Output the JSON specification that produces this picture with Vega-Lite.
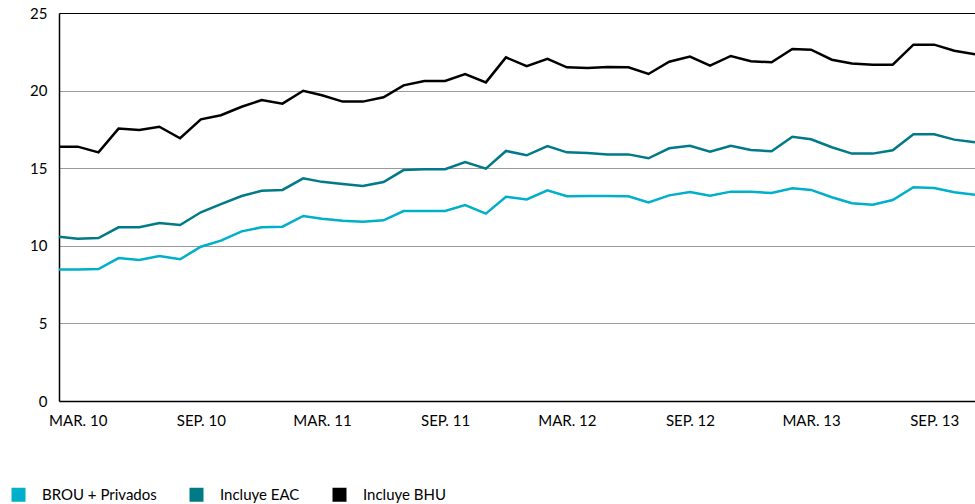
{
  "$schema": "https://vega.github.io/schema/vega-lite/v6.json",
  "width": 916,
  "height": 388,
  "autosize": {"type": "none"},
  "padding": {"left": 59, "top": 13, "right": 0, "bottom": 103},
  "config": {
    "view": {"stroke": null},
    "font": "Lato",
    "axis": {"labelFont": "Lato", "labelColor": "#000", "labelFontSize": 15},
    "legend": {"labelFont": "Lato", "labelColor": "#000", "labelFontSize": 15}
  },
  "data": {"values": [
    {"fecha": "2010-02-01", "serie": "BROU + Privados", "valor": 8.48},
    {"fecha": "2010-03-01", "serie": "BROU + Privados", "valor": 8.48},
    {"fecha": "2010-04-01", "serie": "BROU + Privados", "valor": 8.5},
    {"fecha": "2010-05-01", "serie": "BROU + Privados", "valor": 9.21},
    {"fecha": "2010-06-01", "serie": "BROU + Privados", "valor": 9.09},
    {"fecha": "2010-07-01", "serie": "BROU + Privados", "valor": 9.34},
    {"fecha": "2010-08-01", "serie": "BROU + Privados", "valor": 9.13},
    {"fecha": "2010-09-01", "serie": "BROU + Privados", "valor": 9.94},
    {"fecha": "2010-10-01", "serie": "BROU + Privados", "valor": 10.33},
    {"fecha": "2010-11-01", "serie": "BROU + Privados", "valor": 10.93},
    {"fecha": "2010-12-01", "serie": "BROU + Privados", "valor": 11.19},
    {"fecha": "2011-01-01", "serie": "BROU + Privados", "valor": 11.23},
    {"fecha": "2011-02-01", "serie": "BROU + Privados", "valor": 11.92},
    {"fecha": "2011-03-01", "serie": "BROU + Privados", "valor": 11.75},
    {"fecha": "2011-04-01", "serie": "BROU + Privados", "valor": 11.62},
    {"fecha": "2011-05-01", "serie": "BROU + Privados", "valor": 11.55},
    {"fecha": "2011-06-01", "serie": "BROU + Privados", "valor": 11.64},
    {"fecha": "2011-07-01", "serie": "BROU + Privados", "valor": 12.24},
    {"fecha": "2011-08-01", "serie": "BROU + Privados", "valor": 12.24},
    {"fecha": "2011-09-01", "serie": "BROU + Privados", "valor": 12.24},
    {"fecha": "2011-10-01", "serie": "BROU + Privados", "valor": 12.63},
    {"fecha": "2011-11-01", "serie": "BROU + Privados", "valor": 12.07},
    {"fecha": "2011-12-01", "serie": "BROU + Privados", "valor": 13.16},
    {"fecha": "2012-01-01", "serie": "BROU + Privados", "valor": 12.99},
    {"fecha": "2012-02-01", "serie": "BROU + Privados", "valor": 13.57},
    {"fecha": "2012-03-01", "serie": "BROU + Privados", "valor": 13.19},
    {"fecha": "2012-04-01", "serie": "BROU + Privados", "valor": 13.21},
    {"fecha": "2012-05-01", "serie": "BROU + Privados", "valor": 13.21},
    {"fecha": "2012-06-01", "serie": "BROU + Privados", "valor": 13.19},
    {"fecha": "2012-07-01", "serie": "BROU + Privados", "valor": 12.8},
    {"fecha": "2012-08-01", "serie": "BROU + Privados", "valor": 13.25},
    {"fecha": "2012-09-01", "serie": "BROU + Privados", "valor": 13.47},
    {"fecha": "2012-10-01", "serie": "BROU + Privados", "valor": 13.23},
    {"fecha": "2012-11-01", "serie": "BROU + Privados", "valor": 13.49},
    {"fecha": "2012-12-01", "serie": "BROU + Privados", "valor": 13.49},
    {"fecha": "2013-01-01", "serie": "BROU + Privados", "valor": 13.4},
    {"fecha": "2013-02-01", "serie": "BROU + Privados", "valor": 13.7},
    {"fecha": "2013-03-01", "serie": "BROU + Privados", "valor": 13.6},
    {"fecha": "2013-04-01", "serie": "BROU + Privados", "valor": 13.13},
    {"fecha": "2013-05-01", "serie": "BROU + Privados", "valor": 12.74},
    {"fecha": "2013-06-01", "serie": "BROU + Privados", "valor": 12.65},
    {"fecha": "2013-07-01", "serie": "BROU + Privados", "valor": 12.95},
    {"fecha": "2013-08-01", "serie": "BROU + Privados", "valor": 13.77},
    {"fecha": "2013-09-01", "serie": "BROU + Privados", "valor": 13.72},
    {"fecha": "2013-10-01", "serie": "BROU + Privados", "valor": 13.45},
    {"fecha": "2013-11-01", "serie": "BROU + Privados", "valor": 13.29},
    {"fecha": "2010-02-01", "serie": "Incluye EAC", "valor": 10.59},
    {"fecha": "2010-03-01", "serie": "Incluye EAC", "valor": 10.46},
    {"fecha": "2010-04-01", "serie": "Incluye EAC", "valor": 10.5},
    {"fecha": "2010-05-01", "serie": "Incluye EAC", "valor": 11.19},
    {"fecha": "2010-06-01", "serie": "Incluye EAC", "valor": 11.19},
    {"fecha": "2010-07-01", "serie": "Incluye EAC", "valor": 11.47},
    {"fecha": "2010-08-01", "serie": "Incluye EAC", "valor": 11.34},
    {"fecha": "2010-09-01", "serie": "Incluye EAC", "valor": 12.16},
    {"fecha": "2010-10-01", "serie": "Incluye EAC", "valor": 12.69},
    {"fecha": "2010-11-01", "serie": "Incluye EAC", "valor": 13.21},
    {"fecha": "2010-12-01", "serie": "Incluye EAC", "valor": 13.55},
    {"fecha": "2011-01-01", "serie": "Incluye EAC", "valor": 13.6},
    {"fecha": "2011-02-01", "serie": "Incluye EAC", "valor": 14.35},
    {"fecha": "2011-03-01", "serie": "Incluye EAC", "valor": 14.12},
    {"fecha": "2011-04-01", "serie": "Incluye EAC", "valor": 13.98},
    {"fecha": "2011-05-01", "serie": "Incluye EAC", "valor": 13.85},
    {"fecha": "2011-06-01", "serie": "Incluye EAC", "valor": 14.11},
    {"fecha": "2011-07-01", "serie": "Incluye EAC", "valor": 14.88},
    {"fecha": "2011-08-01", "serie": "Incluye EAC", "valor": 14.93},
    {"fecha": "2011-09-01", "serie": "Incluye EAC", "valor": 14.93},
    {"fecha": "2011-10-01", "serie": "Incluye EAC", "valor": 15.4},
    {"fecha": "2011-11-01", "serie": "Incluye EAC", "valor": 14.97},
    {"fecha": "2011-12-01", "serie": "Incluye EAC", "valor": 16.11},
    {"fecha": "2012-01-01", "serie": "Incluye EAC", "valor": 15.83},
    {"fecha": "2012-02-01", "serie": "Incluye EAC", "valor": 16.43},
    {"fecha": "2012-03-01", "serie": "Incluye EAC", "valor": 16.02},
    {"fecha": "2012-04-01", "serie": "Incluye EAC", "valor": 15.98},
    {"fecha": "2012-05-01", "serie": "Incluye EAC", "valor": 15.89},
    {"fecha": "2012-06-01", "serie": "Incluye EAC", "valor": 15.89},
    {"fecha": "2012-07-01", "serie": "Incluye EAC", "valor": 15.64},
    {"fecha": "2012-08-01", "serie": "Incluye EAC", "valor": 16.28},
    {"fecha": "2012-09-01", "serie": "Incluye EAC", "valor": 16.45},
    {"fecha": "2012-10-01", "serie": "Incluye EAC", "valor": 16.06},
    {"fecha": "2012-11-01", "serie": "Incluye EAC", "valor": 16.45},
    {"fecha": "2012-12-01", "serie": "Incluye EAC", "valor": 16.17},
    {"fecha": "2013-01-01", "serie": "Incluye EAC", "valor": 16.09},
    {"fecha": "2013-02-01", "serie": "Incluye EAC", "valor": 17.03},
    {"fecha": "2013-03-01", "serie": "Incluye EAC", "valor": 16.86},
    {"fecha": "2013-04-01", "serie": "Incluye EAC", "valor": 16.35},
    {"fecha": "2013-05-01", "serie": "Incluye EAC", "valor": 15.94},
    {"fecha": "2013-06-01", "serie": "Incluye EAC", "valor": 15.94},
    {"fecha": "2013-07-01", "serie": "Incluye EAC", "valor": 16.15},
    {"fecha": "2013-08-01", "serie": "Incluye EAC", "valor": 17.18},
    {"fecha": "2013-09-01", "serie": "Incluye EAC", "valor": 17.18},
    {"fecha": "2013-10-01", "serie": "Incluye EAC", "valor": 16.84},
    {"fecha": "2013-11-01", "serie": "Incluye EAC", "valor": 16.67},
    {"fecha": "2010-02-01", "serie": "Incluye BHU", "valor": 16.39},
    {"fecha": "2010-03-01", "serie": "Incluye BHU", "valor": 16.39},
    {"fecha": "2010-04-01", "serie": "Incluye BHU", "valor": 16.02},
    {"fecha": "2010-05-01", "serie": "Incluye BHU", "valor": 17.55},
    {"fecha": "2010-06-01", "serie": "Incluye BHU", "valor": 17.46},
    {"fecha": "2010-07-01", "serie": "Incluye BHU", "valor": 17.67},
    {"fecha": "2010-08-01", "serie": "Incluye BHU", "valor": 16.93},
    {"fecha": "2010-09-01", "serie": "Incluye BHU", "valor": 18.15},
    {"fecha": "2010-10-01", "serie": "Incluye BHU", "valor": 18.41},
    {"fecha": "2010-11-01", "serie": "Incluye BHU", "valor": 18.96},
    {"fecha": "2010-12-01", "serie": "Incluye BHU", "valor": 19.39},
    {"fecha": "2011-01-01", "serie": "Incluye BHU", "valor": 19.16},
    {"fecha": "2011-02-01", "serie": "Incluye BHU", "valor": 19.99},
    {"fecha": "2011-03-01", "serie": "Incluye BHU", "valor": 19.7},
    {"fecha": "2011-04-01", "serie": "Incluye BHU", "valor": 19.29},
    {"fecha": "2011-05-01", "serie": "Incluye BHU", "valor": 19.29},
    {"fecha": "2011-06-01", "serie": "Incluye BHU", "valor": 19.57},
    {"fecha": "2011-07-01", "serie": "Incluye BHU", "valor": 20.34},
    {"fecha": "2011-08-01", "serie": "Incluye BHU", "valor": 20.62},
    {"fecha": "2011-09-01", "serie": "Incluye BHU", "valor": 20.62},
    {"fecha": "2011-10-01", "serie": "Incluye BHU", "valor": 21.07},
    {"fecha": "2011-11-01", "serie": "Incluye BHU", "valor": 20.53},
    {"fecha": "2011-12-01", "serie": "Incluye BHU", "valor": 22.14},
    {"fecha": "2012-01-01", "serie": "Incluye BHU", "valor": 21.58},
    {"fecha": "2012-02-01", "serie": "Incluye BHU", "valor": 22.04},
    {"fecha": "2012-03-01", "serie": "Incluye BHU", "valor": 21.5},
    {"fecha": "2012-04-01", "serie": "Incluye BHU", "valor": 21.46},
    {"fecha": "2012-05-01", "serie": "Incluye BHU", "valor": 21.52},
    {"fecha": "2012-06-01", "serie": "Incluye BHU", "valor": 21.5},
    {"fecha": "2012-07-01", "serie": "Incluye BHU", "valor": 21.07},
    {"fecha": "2012-08-01", "serie": "Incluye BHU", "valor": 21.86},
    {"fecha": "2012-09-01", "serie": "Incluye BHU", "valor": 22.19},
    {"fecha": "2012-10-01", "serie": "Incluye BHU", "valor": 21.61},
    {"fecha": "2012-11-01", "serie": "Incluye BHU", "valor": 22.23},
    {"fecha": "2012-12-01", "serie": "Incluye BHU", "valor": 21.89},
    {"fecha": "2013-01-01", "serie": "Incluye BHU", "valor": 21.82},
    {"fecha": "2013-02-01", "serie": "Incluye BHU", "valor": 22.68},
    {"fecha": "2013-03-01", "serie": "Incluye BHU", "valor": 22.64},
    {"fecha": "2013-04-01", "serie": "Incluye BHU", "valor": 21.99},
    {"fecha": "2013-05-01", "serie": "Incluye BHU", "valor": 21.75},
    {"fecha": "2013-06-01", "serie": "Incluye BHU", "valor": 21.67},
    {"fecha": "2013-07-01", "serie": "Incluye BHU", "valor": 21.67},
    {"fecha": "2013-08-01", "serie": "Incluye BHU", "valor": 22.96},
    {"fecha": "2013-09-01", "serie": "Incluye BHU", "valor": 22.96},
    {"fecha": "2013-10-01", "serie": "Incluye BHU", "valor": 22.57},
    {"fecha": "2013-11-01", "serie": "Incluye BHU", "valor": 22.34}
  ]},
  "mark": {"type": "line", "strokeWidth": 2.5, "strokeJoin": "miter"},
  "encoding": {
    "x": {
      "field": "fecha",
      "type": "temporal",
      "scale": {"type": "utc", "nice": false},
      "axis": {
        "title": null,
        "values": [
          {"year": 2010, "month": 3, "date": 1, "utc": true},
          {"year": 2010, "month": 9, "date": 1, "utc": true},
          {"year": 2011, "month": 3, "date": 1, "utc": true},
          {"year": 2011, "month": 9, "date": 1, "utc": true},
          {"year": 2012, "month": 3, "date": 1, "utc": true},
          {"year": 2012, "month": 9, "date": 1, "utc": true},
          {"year": 2013, "month": 3, "date": 1, "utc": true},
          {"year": 2013, "month": 9, "date": 1, "utc": true}
        ],
        "labelExpr": "upper(utcFormat(datum.value, '%b. %y'))",
        "labelOverlap": false,
        "labelFlush": false,
        "labelPadding": 12,
        "ticks": false,
        "grid": false,
        "domainColor": "#000",
        "domainWidth": 1.5
      }
    },
    "y": {
      "field": "valor",
      "type": "quantitative",
      "scale": {"domain": [0, 25], "nice": false},
      "axis": {
        "title": null,
        "values": [0, 5, 10, 15, 20, 25],
        "ticks": false,
        "grid": true,
        "gridColor": {"condition": {"test": "datum.value == 25", "value": "#000"}, "value": "#9a9a9a"},
        "gridWidth": 1.2,
        "domainColor": "#000",
        "domainWidth": 1.5,
        "labelPadding": 12
      }
    },
    "color": {
      "field": "serie",
      "type": "nominal",
      "scale": {
        "domain": ["BROU + Privados", "Incluye EAC", "Incluye BHU"],
        "range": ["#00afca", "#007a87", "#000000"]
      },
      "legend": {
        "title": null,
        "orient": "none",
        "legendX": -48,
        "legendY": 474,
        "direction": "horizontal",
        "symbolType": "square",
        "symbolSize": 196,
        "symbolStrokeWidth": 0,
        "labelOffset": 16,
        "columnPadding": 32,
        "encode": {
          "symbols": {"update": {"fill": {"scale": "color", "field": "value"}, "strokeWidth": {"value": 0}, "opacity": {"value": 1}}}
        }
      }
    }
  }
}
